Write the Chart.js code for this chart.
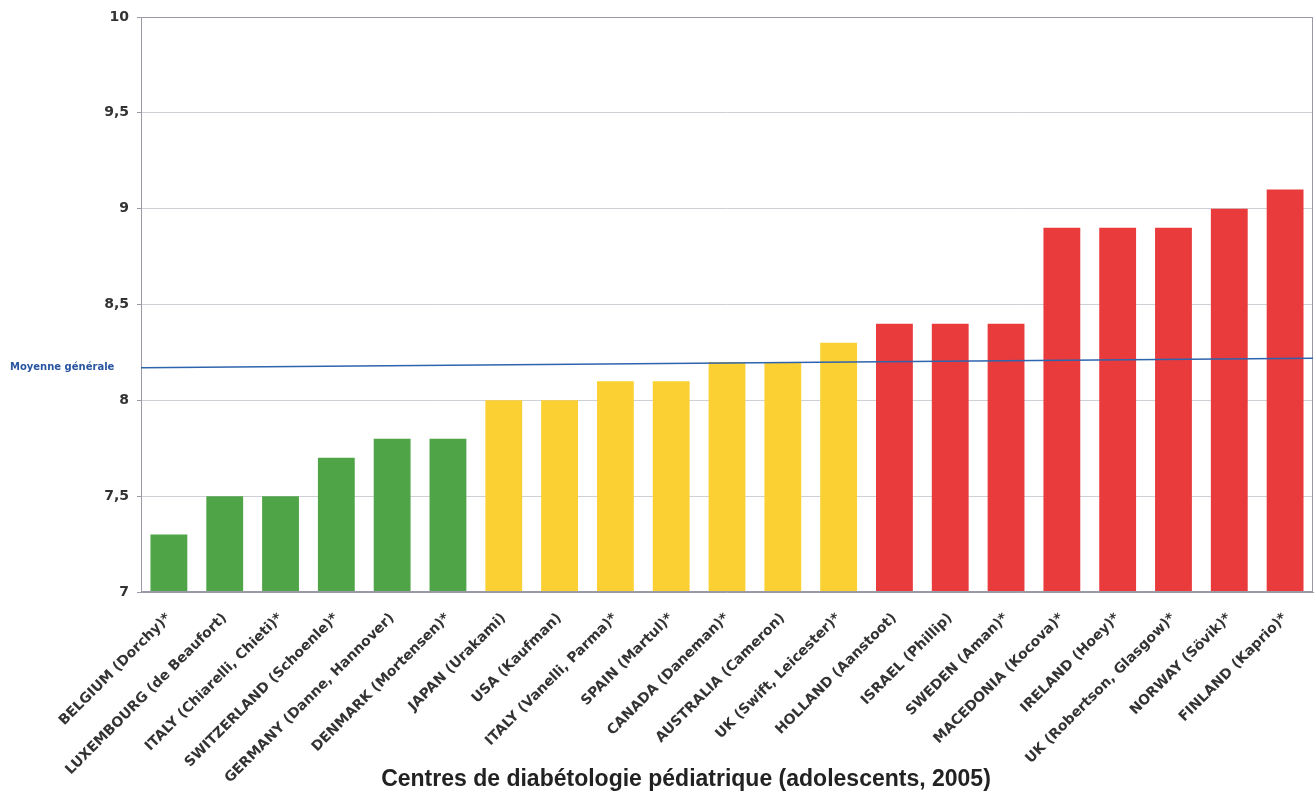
<!DOCTYPE html>
<html>
<head>
<meta charset="utf-8">
<script src="https://cdn.jsdelivr.net/npm/chart.js@4"></script>
<style>
  body { margin: 0; background: #fff; }
</style>
</head>
<body>
<canvas id="chart" width="1316" height="793"></canvas>
<script>
// centres, HbA1c moyenne (%), groupes de couleur
const centres = [
  "BELGIUM (Dorchy)*", "LUXEMBOURG (de Beaufort)", "ITALY (Chiarelli, Chieti)*",
  "SWITZERLAND (Schoenle)*", "GERMANY (Danne, Hannover)", "DENMARK (Mortensen)*",
  "JAPAN (Urakami)", "USA (Kaufman)", "ITALY (Vanelli, Parma)*", "SPAIN (Martul)*",
  "CANADA (Daneman)*", "AUSTRALIA (Cameron)", "UK (Swift, Leicester)*",
  "HOLLAND (Aanstoot)", "ISRAEL (Phillip)", "SWEDEN (Aman)*", "MACEDONIA (Kocova)*",
  "IRELAND (Hoey)*", "UK (Robertson, Glasgow)*", "NORWAY (Sövik)*", "FINLAND (Kaprio)*"
];
const hba1c = [7.3, 7.5, 7.5, 7.7, 7.8, 7.8, 8.0, 8.0, 8.1, 8.1, 8.2, 8.2, 8.3,
               8.4, 8.4, 8.4, 8.9, 8.9, 8.9, 9.0, 9.1];
const groupe = ["g","g","g","g","g","g","y","y","y","y","y","y","y",
                "r","r","r","r","r","r","r","r"];
const groupColors = { g: "#4fa447", y: "#fbd032", r: "#e93a3c" };

// ligne de moyenne (un peu penchée sur le scan) : début, fin
const moyenne = [8.17, 8.22];
const moyenneLabel = "Moyenne générale";
const xTitle = "Centres de diabétologie pédiatrique (adolescents, 2005)";
const yTicks = [7, 7.5, 8, 8.5, 9, 9.5, 10];

const ctx = document.getElementById("chart").getContext("2d");

const extras = {
  id: "extras",
  afterDatasetsDraw(chart) {
    const { ctx, chartArea: a, scales } = chart;
    const y = scales.y;
    ctx.save();
    // cadre du graphique
    ctx.strokeStyle = "#9a9aa6";
    ctx.lineWidth = 1;
    ctx.strokeRect(a.left + 0.5, a.top + 0.5, a.width - 1, a.height - 1);
    // moyenne générale
    ctx.strokeStyle = "#2e64ad";
    ctx.lineWidth = 1.5;
    ctx.beginPath();
    ctx.moveTo(a.left, y.getPixelForValue(moyenne[0]));
    ctx.lineTo(a.right, y.getPixelForValue(moyenne[1]));
    ctx.stroke();
    ctx.fillStyle = "#2a55a0";
    ctx.font = "bold 10px 'DejaVu Sans'";
    ctx.textAlign = "left";
    ctx.textBaseline = "middle";
    ctx.fillText(moyenneLabel, 10, y.getPixelForValue(moyenne[0]));
    // titre de l'axe
    ctx.fillStyle = "#222";
    ctx.font = "bold 23px 'Liberation Sans'";
    ctx.textAlign = "center";
    ctx.textBaseline = "alphabetic";
    ctx.fillText(xTitle, a.left + a.width * 0.465, chart.height - 7);
    ctx.restore();
  }
};

new Chart(ctx, {
  type: "bar",
  data: {
    labels: centres,
    datasets: [{
      data: hba1c,
      backgroundColor: groupe.map(g => groupColors[g]),
      borderWidth: 0,
      barPercentage: 0.66,
      categoryPercentage: 1.0
    }]
  },
  options: {
    responsive: false,
    animation: false,
    layout: { padding: { top: 17, right: 3, left: 0, bottom: 0 } },
    plugins: { legend: { display: false }, tooltip: { enabled: false } },
    scales: {
      x: {
        grid: { display: false },
        border: { color: "#9a9aa6" },
        ticks: {
          minRotation: 45, maxRotation: 45, autoSkip: false,
          color: "#333", padding: 10,
          font: { family: "DejaVu Sans", weight: "bold", size: 14 }
        },
        afterFit(scale) { scale.height = 201; }
      },
      y: {
        min: 7, max: 10,
        afterBuildTicks(scale) { scale.ticks = yTicks.map(v => ({ value: v })); },
        grid: { color: "#cfcfd6", tickLength: 4, tickColor: "#9a9aa6" },
        border: { color: "#9a9aa6" },
        ticks: {
          color: "#333", padding: 8,
          font: { family: "DejaVu Sans", weight: "bold", size: 14 },
          callback: v => String(v).replace(".", ",")
        },
        afterFit(scale) { scale.width = 141; }
      }
    }
  },
  plugins: [extras]
});
</script>
</body>
</html>
